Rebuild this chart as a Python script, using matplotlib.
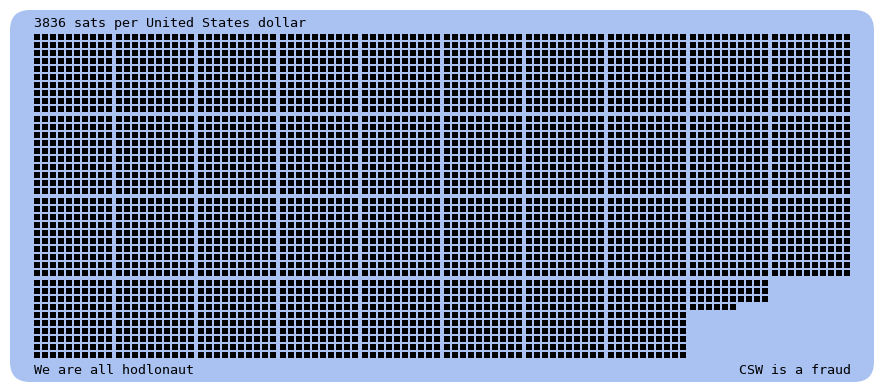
import numpy as np
import matplotlib
matplotlib.use('Agg')
from matplotlib import pyplot as plt
from matplotlib.patches import FancyBboxPatch

# data
sats = 3836
title = '3836 sats per United States dollar'
left_note = 'We are all hodlonaut'
right_note = 'CSW is a fraud'

bg = '#a9c2f2'

fig = plt.figure(figsize=(8.84, 3.92), dpi=100)
ax = fig.add_axes([0, 0, 1, 1])
ax.set_xlim(0, 884)
ax.set_ylim(392, 0)
ax.axis('off')

# rounded background
ax.add_patch(FancyBboxPatch((10 + 20, 10 + 20), 864 - 40, 372 - 40,
                            boxstyle='round,pad=20', fc=bg, ec='none'))

# one square per sat, 10x10 per block, 10 blocks per row
i = np.arange(sats)
blk = i // 100
j = i % 100
x = 34 + (blk % 10) * 82 + (j % 10) * 8
y = 34 + (blk // 10) * 82 + (j // 10) * 8
ax.bar(x, 6, width=6, bottom=y, align='edge', color='black',
       linewidth=0, antialiased=False)

font = dict(family='DejaVu Sans Mono', fontsize=9.6, color='black')
ax.text(34, 27, title, ha='left', va='baseline', **font)
ax.text(34, 374, left_note, ha='left', va='baseline', **font)
ax.text(851, 374, right_note, ha='right', va='baseline', **font)

fig.savefig('out.png', dpi=100, facecolor='white')
